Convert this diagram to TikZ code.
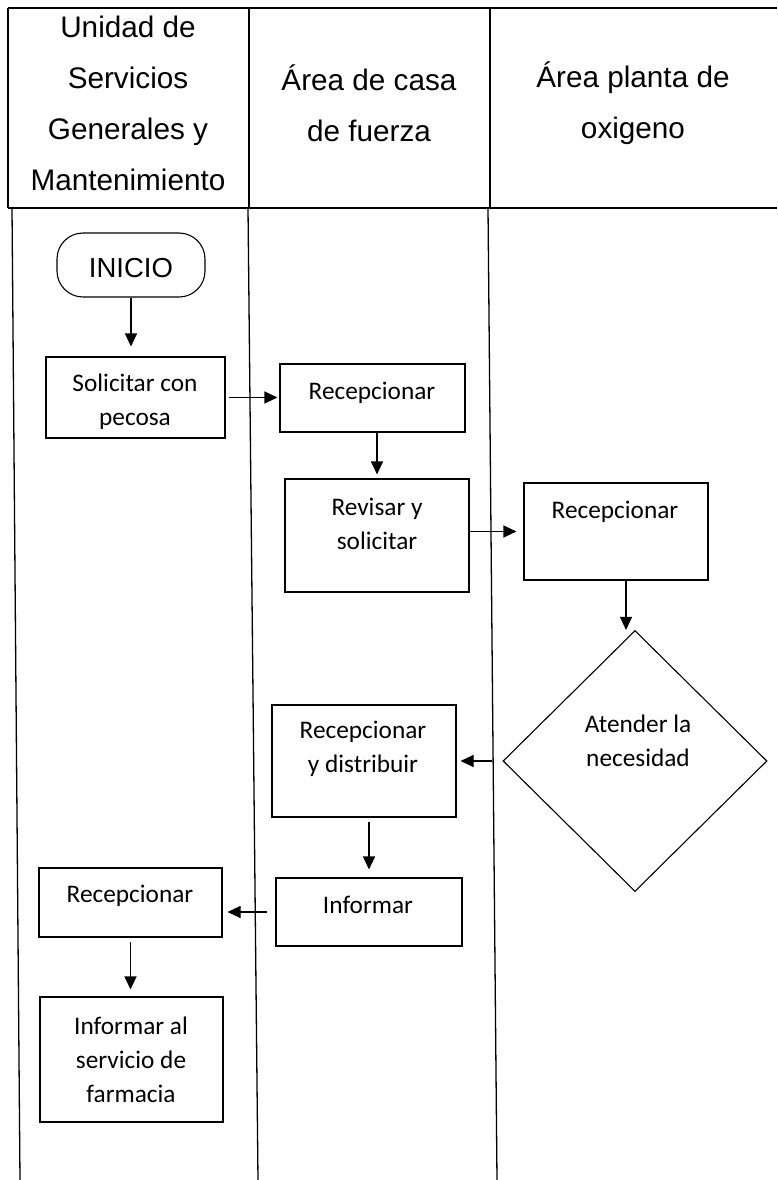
\documentclass[tikz,border=0pt]{standalone}
\usepackage{fontspec}
\setmainfont{Carlito}
\newfontfamily\arialfont{Liberation Sans}
\usetikzlibrary{arrows.meta,shapes.geometric}
\begin{document}
\begin{tikzpicture}[x=1pt,y=-1pt,
  lane/.style={line width=1.3pt},
  box/.style={draw,line width=1.1pt,rectangle,inner sep=0pt},
  lbl/.style={font=\fontsize{25.3}{34}\selectfont,align=center,inner sep=0pt},
  hdr/.style={font=\arialfont\fontsize{29.7}{51}\selectfont,align=center,inner sep=0pt},
  arr/.style={line width=1.1pt,-{Triangle[length=13pt,width=12pt]}}]
\useasboundingbox (0,0) rectangle (777,1180);
% lanes
\draw[lane] (8,8) -- (777,8);
\draw[lane] (8,208) -- (777,208);
\draw[lane] (8,8) -- (8,208);
\draw[lane] (249,8) -- (249,208);
\draw[lane] (490,8) -- (490,208);
\draw[lane] (12,208) -- (20,1180);
\draw[lane] (248,208) -- (258,1180);
\draw[lane] (488,208) -- (497,1180);
% headers
\node[hdr] (h1) at (128,103) {Unidad de\\Servicios\\Generales y\\Mantenimiento};
\node[hdr] (h2) at (369,103) {Área de casa\\de fuerza};
\node[hdr] (h3) at (633,103) {Área planta de\\oxigeno};
% shapes
\node[box,rounded corners=26pt,minimum width=148pt,minimum height=64pt] (inicio) at (131,265) {};
\node[inner sep=0pt,font=\arialfont\fontsize{27.5}{33}\selectfont] (inicioT) at (131,268) {INICIO};
\node[box,minimum width=179pt,minimum height=81pt] (sol) at (135.5,397.5) {};
\node[lbl] (solT) at (135,402) {Solicitar con\\pecosa};
\node[box,minimum width=185pt,minimum height=68pt] (rec2) at (372.5,398) {};
\node[lbl] (rec2T) at (372,393) {Recepcionar};
\node[box,minimum width=184pt,minimum height=113pt] (rev) at (377,535.5) {};
\node[lbl] (revT) at (377,523.5) {Revisar y\\solicitar};
\node[box,minimum width=184pt,minimum height=97pt] (rec3) at (616,531.5) {};
\node[lbl] (rec3T) at (615,512) {Recepcionar};
\node[draw,line width=1.1pt,diamond,inner sep=0pt,minimum width=264pt,minimum height=261pt] (dia) at (635,761) {};
\node[lbl] (diaT) at (638,741) {Atender la\\necesidad};
\node[box,minimum width=184pt,minimum height=112pt] (rdist) at (364,761) {};
\node[lbl] (rdistT) at (363,748.5) {Recepcionar\\y distribuir};
\node[box,minimum width=186pt,minimum height=68pt] (inf) at (369,912) {};
\node[lbl] (infT) at (368,905) {Informar};
\node[box,minimum width=183pt,minimum height=69pt] (rec1) at (130.5,902.5) {};
\node[lbl] (rec1T) at (130,896) {Recepcionar};
\node[box,minimum width=183pt,minimum height=125pt] (farm) at (131.5,1059.5) {};
\node[lbl] (farmT) at (131,1059.5) {Informar al\\servicio de\\farmacia};
% connectors
\draw[arr,shorten >=10pt] (inicio.south) -- (inicio.south |- sol.north);
\draw[arr,shorten <=3pt,shorten >=2pt] (sol.east) -- (sol.east -| rec2.west);
\draw[arr,shorten >=4pt] (rev.north |- rec2.south) -- (rev.north);
\draw[arr,shorten >=7pt] (rec3.west -| rev.east) -- (rec3.west);
\draw[arr] ([xshift=10pt]rec3.south) -- ([xshift=10pt]rec3.south |- dia.north);
\draw[arr,shorten <=10pt,shorten >=4pt] (dia.west) -- (dia.west -| rdist.east);
\draw[arr,shorten <=4pt,shorten >=8pt] (inf.north |- rdist.south) -- (inf.north);
\draw[arr,shorten <=8pt,shorten >=5pt] (inf.west) -- (inf.west -| rec1.east);
\draw[arr,shorten <=4pt,shorten >=7pt] (rec1.south) -- (rec1.south |- farm.north);
\end{tikzpicture}
\end{document}
